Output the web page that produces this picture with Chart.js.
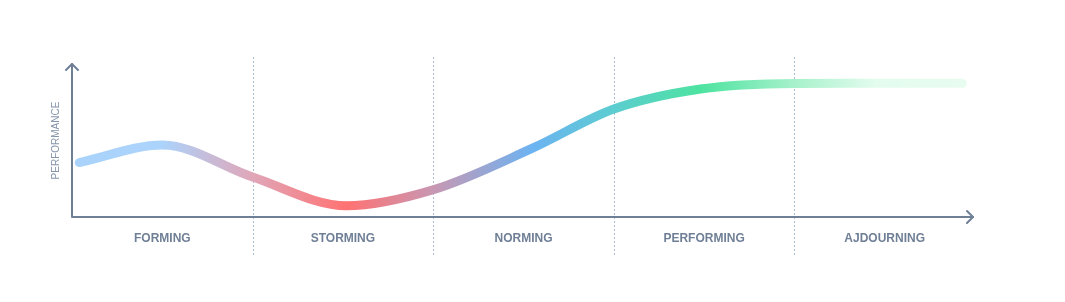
<!DOCTYPE html>
<html>
<head>
<meta charset="utf-8">
<script src="https://cdn.jsdelivr.net/npm/chart.js@4"></script>
<style>
  html, body { margin: 0; padding: 0; background: #fff; }
  #wrap { width: 1065px; height: 302px; }
</style>
</head>
<body>
<div id="wrap"><canvas id="teamChart"></canvas></div>
<script>
// stages of team development
const stages = ['FORMING', 'STORMING', 'NORMING', 'PERFORMING', 'AJDOURNING'];
// position along the x axis, in stage units (0 = start of FORMING)
const stagePos = [0.04, 0.5, 1.0, 1.52, 2.0, 2.55, 3.0, 3.48, 4.0, 4.5, 4.93];
// performance level (0 - 100)
const performance = [34, 45, 25, 7, 17, 43, 67.5, 80, 83.5, 83.6, 83.6];

const axisColor = '#6e7f96';

// gradient of the curve, colour stop by stage position
const curveStops = [
    [0.04, '#a9d3fb'], [0.5, '#acd3fb'], [1.0, '#e0a6b8'], [1.52, '#ff7272'],
    [2.0, '#c897b2'], [2.55, '#6cb3f2'], [3.0, '#5ccdd0'], [3.48, '#4de3a0'],
    [4.0, '#a6f1cb'], [4.45, '#e3fcee'], [4.95, '#e8fcf0']
];

function curveGradient(context) {
    const chart = context.chart;
    const { ctx, chartArea, scales } = chart;
    if (!chartArea) return '#a9d3fb';
    const x0 = scales.x.getPixelForValue(0);
    const x1 = scales.x.getPixelForValue(5);
    const g = ctx.createLinearGradient(x0, 0, x1, 0);
    curveStops.forEach(s => g.addColorStop(s[0] / 5, s[1]));
    return g;
}

// axes with arrows, dotted stage dividers, stage names, y title
const decorPlugin = {
    id: 'decor',
    beforeDatasetsDraw(chart) {
        const { ctx, chartArea, scales } = chart;
        const x = scales.x;
        ctx.save();
        // dividers
        ctx.strokeStyle = '#a9bcd0';
        ctx.lineWidth = 1;
        ctx.setLineDash([2, 2]);
        for (let i = 1; i < stages.length; i++) {
            const px = Math.round(x.getPixelForValue(i)) + 0.5;
            ctx.beginPath();
            ctx.moveTo(px, chartArea.top);
            ctx.lineTo(px, chartArea.bottom + 38);
            ctx.stroke();
        }
        ctx.setLineDash([]);

        // axes
        const left = chartArea.left, bottom = chartArea.bottom;
        const right = chartArea.right - 2;
        const top = chartArea.top + 7;
        ctx.strokeStyle = axisColor;
        ctx.lineWidth = 2;
        ctx.lineCap = 'round';
        ctx.lineJoin = 'round';
        ctx.beginPath();
        ctx.moveTo(left, top);
        ctx.lineTo(left, bottom);
        ctx.lineTo(right, bottom);
        ctx.stroke();
        // arrow heads
        ctx.beginPath();
        ctx.moveTo(left - 6, top + 6);
        ctx.lineTo(left, top);
        ctx.lineTo(left + 6, top + 6);
        ctx.moveTo(right - 6, bottom - 6);
        ctx.lineTo(right, bottom);
        ctx.lineTo(right - 6, bottom + 6);
        ctx.stroke();

        // stage names
        ctx.fillStyle = '#6f7f96';
        ctx.font = 'bold 12px "Liberation Sans", Arial, sans-serif';
        ctx.textAlign = 'center';
        ctx.textBaseline = 'middle';
        stages.forEach((s, i) => {
            ctx.fillText(s, x.getPixelForValue(i + 0.5), bottom + 22);
        });

        // y title
        ctx.translate(left - 16, (top + bottom) / 2);
        ctx.rotate(-Math.PI / 2);
        ctx.fillStyle = '#8495ab';
        ctx.font = '10px "Liberation Sans", Arial, sans-serif';
        ctx.fillText('PERFORMANCE', 0, 0);
        ctx.restore();
    }
};

new Chart(document.getElementById('teamChart'), {
    type: 'line',
    data: {
        datasets: [{
            data: stagePos.map((p, i) => ({ x: p, y: performance[i] })),
            borderColor: curveGradient,
            borderWidth: 9,
            borderCapStyle: 'round',
            borderJoinStyle: 'round',
            cubicInterpolationMode: 'monotone',
            pointRadius: 0,
            fill: false
        }]
    },
    options: {
        responsive: true,
        maintainAspectRatio: false,
        animation: false,
        layout: { padding: { left: 72, right: 90, top: 57, bottom: 85 } },
        scales: {
            x: { type: 'linear', min: 0, max: 5, display: false },
            y: { min: 0, max: 100, display: false }
        },
        plugins: { legend: { display: false }, tooltip: { enabled: false } }
    },
    plugins: [decorPlugin]
});
</script>
</body>
</html>
